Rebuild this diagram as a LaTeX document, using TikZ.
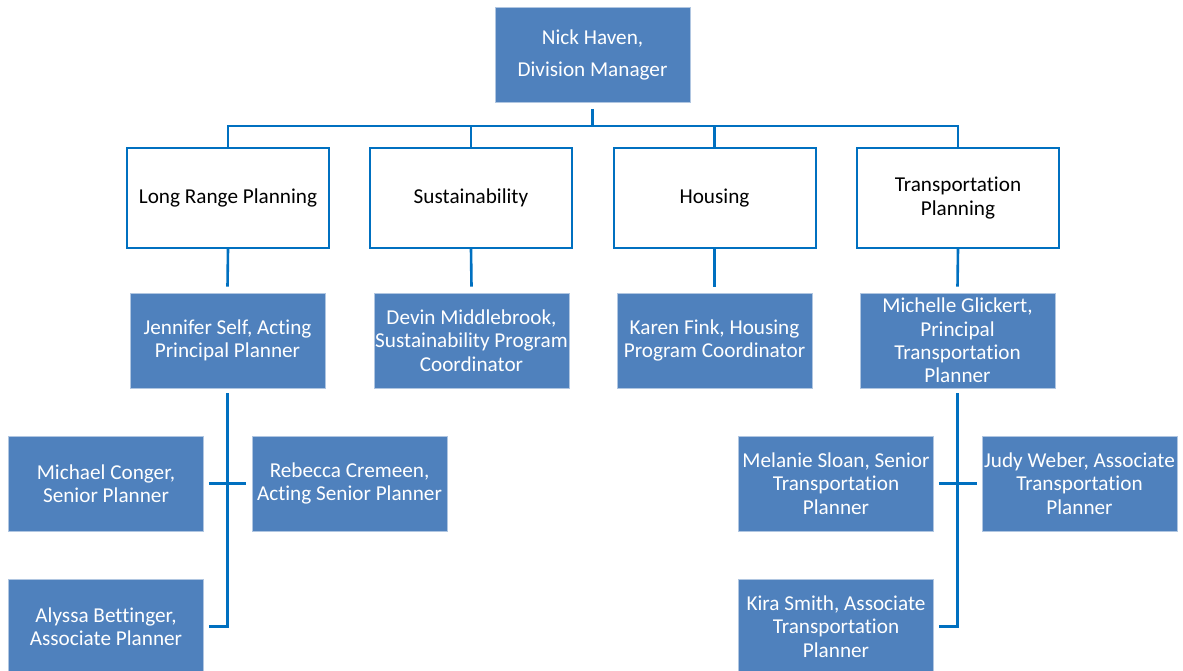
\documentclass[tikz,border=0pt]{standalone}
\usepackage{fontspec}
\setmainfont[Ligatures={NoCommon}]{Carlito}
\definecolor{boxblue}{HTML}{4F81BD}
\definecolor{lineblue}{HTML}{0070C0}
\begin{document}
\begin{tikzpicture}[x=1pt,y=-1pt,
  person/.style={fill=boxblue,draw=boxblue!45!white,line width=0.8pt,text=white,
    minimum width=195pt,minimum height=95pt,align=center,inner sep=0pt,
    font=\fontsize{21.2}{23.4}\selectfont},
  unit/.style={fill=white,draw=lineblue,line width=2pt,text=black,
    minimum width=202pt,minimum height=100pt,align=center,inner sep=0pt,
    font=\fontsize{21.2}{24}\selectfont},
  conn/.style={draw=lineblue,line width=2.6pt}]
\useasboundingbox (0,0) rectangle (1183,670);
\clip (0,0) rectangle (1183,670);
% top
\node[person] (top) at (592.5,55) {Nick Haven,\\[9pt]Division Manager};
% units
\node[unit] (lrp) at (228,198) {Long Range Planning};
\node[unit] (sus) at (471,198) {Sustainability};
\node[unit] (hou) at (714.5,198) {Housing};
\node[unit] (tp) at (958,198) {Transportation\\Planning};
% heads
\node[person] (js) at (227.5,340.5) {Jennifer Self, Acting\\Principal Planner};
\node[person] (dm) at (471.5,340.5) {Devin Middlebrook,\\Sustainability Program\\Coordinator};
\node[person] (kf) at (714.5,340.5) {Karen Fink, Housing\\Program Coordinator};
\node[person] (mg) at (957.5,340.5) {Michelle Glickert,\\Principal\\Transportation\\Planner};
% staff
\node[person] (mc) at (106,483.5) {Michael Conger,\\Senior Planner};
\node[person] (rc) at (349.5,483.5) {Rebecca Cremeen,\\Acting Senior Planner};
\node[person] (ab) at (106,626.5) {Alyssa Bettinger,\\Associate Planner};
\node[person] (ms) at (836,483.5) {Melanie Sloan, Senior\\Transportation\\Planner};
\node[person] (jw) at (1079.5,483.5) {Judy Weber, Associate\\Transportation\\Planner};
\node[person] (ks) at (836,626.5) {Kira Smith, Associate\\Transportation\\Planner};
% connectors
\coordinate (bus) at (592.5,126);
\draw[conn] ([yshift=-6pt]top.south) -- (bus);
\draw[conn] (lrp.north) |- (bus) -| (tp.north);
\draw[conn] (sus.north) -- (sus.north |- bus);
\draw[conn] (hou.north) -- (hou.north |- bus);
\draw[conn] (lrp.south) -- ([yshift=6pt]js.north);
\draw[conn] (sus.south) -- ([yshift=6pt]dm.north);
\draw[conn] (hou.south) -- ([yshift=6pt]kf.north);
\draw[conn] (tp.south) -- ([yshift=6pt]mg.north);
\draw[conn] ([yshift=-5pt]js.south) |- ([xshift=5pt]ab.east);
\draw[conn] ([xshift=5pt]mc.east) -- ([xshift=-6pt]rc.west);
\draw[conn] ([yshift=-5pt]mg.south) |- ([xshift=5pt]ks.east);
\draw[conn] ([xshift=5pt]ms.east) -- ([xshift=-5pt]jw.west);
\end{tikzpicture}
\end{document}
